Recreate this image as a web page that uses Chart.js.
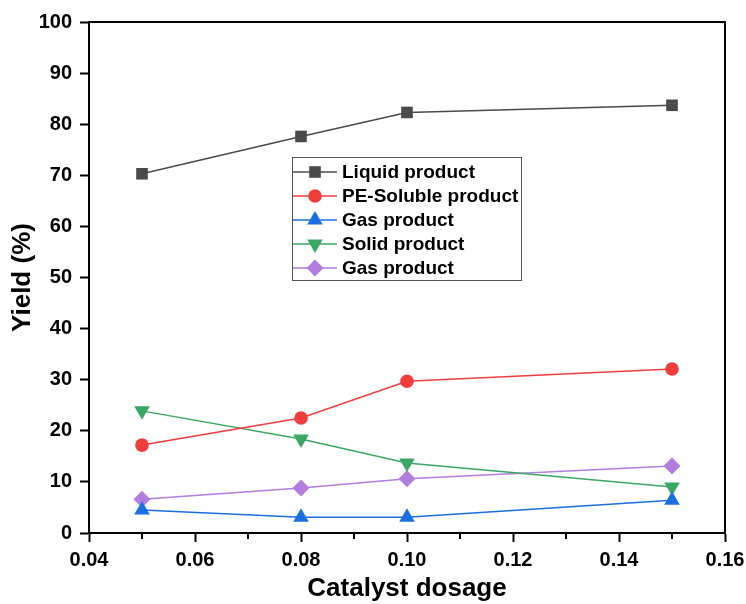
<!DOCTYPE html>
<html>
<head>
<meta charset="utf-8">
<script src="https://cdn.jsdelivr.net/npm/chart.js"></script>
<style>
  html, body { margin: 0; padding: 0; background: #fff; }
  #wrap { width: 746px; height: 604px; position: relative; }
</style>
</head>
<body>
<div id="wrap"><canvas id="c" width="746" height="604"></canvas></div>
<script>
const categories = [0.05, 0.08, 0.10, 0.15];
const liquid = [70.3, 77.6, 82.3, 83.7];
const peSoluble = [17.2, 22.5, 29.7, 32.1];
const gas = [4.5, 3.1, 3.1, 6.4];
const solid = [23.9, 18.4, 13.7, 9.0];
const gas2 = [6.6, 8.8, 10.6, 13.1];
const seriesNames = ['Liquid product', 'PE-Soluble product', 'Gas product', 'Solid product', 'Gas product'];
const xTicks = [0.04, 0.06, 0.08, 0.10, 0.12, 0.14, 0.16];
const xMinorTicks = [0.05, 0.07, 0.09, 0.11, 0.13, 0.15];
const yTicks = [0, 10, 20, 30, 40, 50, 60, 70, 80, 90, 100];

const FONT = "'Liberation Sans', Arial, sans-serif";

function pts(vals) { return categories.map((x, i) => ({ x: x, y: vals[i] })); }

const styles = [
  { color: '#4a4a4a', pointStyle: 'rect', radius: 8.2, rotation: 0 },
  { color: '#ef3e3c', pointStyle: 'circle', radius: 6.8, rotation: 0 },
  { color: '#1b6fe0', pointStyle: 'triangle', radius: 9, rotation: 0 },
  { color: '#3aa862', pointStyle: 'triangle', radius: 9, rotation: 180 },
  { color: '#b27ddf', pointStyle: 'rectRot', radius: 8.5, rotation: 0 }
];
const allVals = [liquid, peSoluble, gas, solid, gas2];

const datasets = allVals.map((v, i) => ({
  label: seriesNames[i],
  data: pts(v),
  borderColor: styles[i].color,
  backgroundColor: styles[i].color,
  borderWidth: 1.5,
  pointStyle: styles[i].pointStyle,
  pointRadius: styles[i].radius,
  pointRotation: styles[i].rotation,
  pointBorderWidth: 0,
  pointHoverRadius: styles[i].radius,
  tension: 0
}));

const framePlugin = {
  id: 'frame',
  afterDraw(chart) {
    const ctx = chart.ctx;
    const a = chart.chartArea;
    const xs = chart.scales.x;
    ctx.save();
    ctx.strokeStyle = '#000';
    ctx.lineWidth = 2;
    ctx.beginPath();
    ctx.moveTo(a.left, a.top);
    ctx.lineTo(a.right, a.top);
    ctx.lineTo(a.right, a.bottom);
    ctx.stroke();
    // minor ticks on x
    xMinorTicks.forEach(v => {
      const px = Math.round(xs.getPixelForValue(v));
      ctx.beginPath();
      ctx.moveTo(px, a.bottom);
      ctx.lineTo(px, a.bottom + 6);
      ctx.stroke();
    });
    // legend
    const lx = 292, ly = 157, lw = 229, lh = 123;
    ctx.lineWidth = 1;
    ctx.strokeStyle = '#555';
    ctx.strokeRect(lx + 0.5, ly + 0.5, lw, lh);
    ctx.font = "bold 19px " + FONT;
    ctx.textBaseline = 'middle';
    ctx.textAlign = 'left';
    chart.data.datasets.forEach((ds, i) => {
      const y = ly + 15 + i * 24;
      ctx.strokeStyle = ds.borderColor;
      ctx.lineWidth = 1.5;
      ctx.beginPath();
      ctx.moveTo(lx + 1, y);
      ctx.lineTo(lx + 45, y);
      ctx.stroke();
      ctx.fillStyle = ds.backgroundColor;
      Chart.helpers.drawPoint(ctx, {
        pointStyle: ds.pointStyle,
        rotation: ds.pointRotation,
        radius: ds.pointRadius,
        borderWidth: 0
      }, lx + 23, y);
      ctx.fillStyle = '#000';
      ctx.fillText(ds.label, lx + 50, y + 1);
    });
    ctx.restore();
  }
};

new Chart(document.getElementById('c'), {
  type: 'line',
  data: { datasets: datasets },
  options: {
    responsive: false,
    animation: false,
    layout: { padding: { left: 0, right: 21, top: 22, bottom: 0 } },
    plugins: { legend: { display: false }, tooltip: { enabled: false } },
    scales: {
      x: {
        type: 'linear',
        min: 0.04, max: 0.16,
        afterBuildTicks(scale) { scale.ticks = xTicks.map(v => ({ value: v })); },
        afterFit(scale) { scale.height = 71; scale.paddingRight = 0; scale.paddingLeft = 0; },
        ticks: {
          color: '#000',
          font: { family: FONT, size: 20, weight: 'bold' },
          padding: 6,
          maxRotation: 0,
          callback: v => v.toFixed(2)
        },
        grid: { drawOnChartArea: false, tickLength: 9, tickWidth: 2, tickColor: '#000' },
        border: { color: '#000', width: 2 },
        title: {
          display: true, text: 'Catalyst dosage', color: '#000',
          font: { family: FONT, size: 26, weight: 'bold' },
          padding: { top: 0, bottom: 0 }
        }
      },
      y: {
        type: 'linear',
        min: 0, max: 100,
        afterBuildTicks(scale) { scale.ticks = yTicks.map(v => ({ value: v })); },
        afterFit(scale) { scale.width = 89; scale.paddingTop = 0; scale.paddingBottom = 0; },
        ticks: {
          color: '#000',
          font: { family: FONT, size: 20, weight: 'bold' },
          padding: 8
        },
        grid: { drawOnChartArea: false, tickLength: 9, tickWidth: 2, tickColor: '#000' },
        border: { color: '#000', width: 2 },
        title: {
          display: true, text: 'Yield (%)', color: '#000',
          font: { family: FONT, size: 26, weight: 'bold' },
          padding: { top: 7, bottom: 0 }
        }
      }
    }
  },
  plugins: [framePlugin]
});
</script>
</body>
</html>
